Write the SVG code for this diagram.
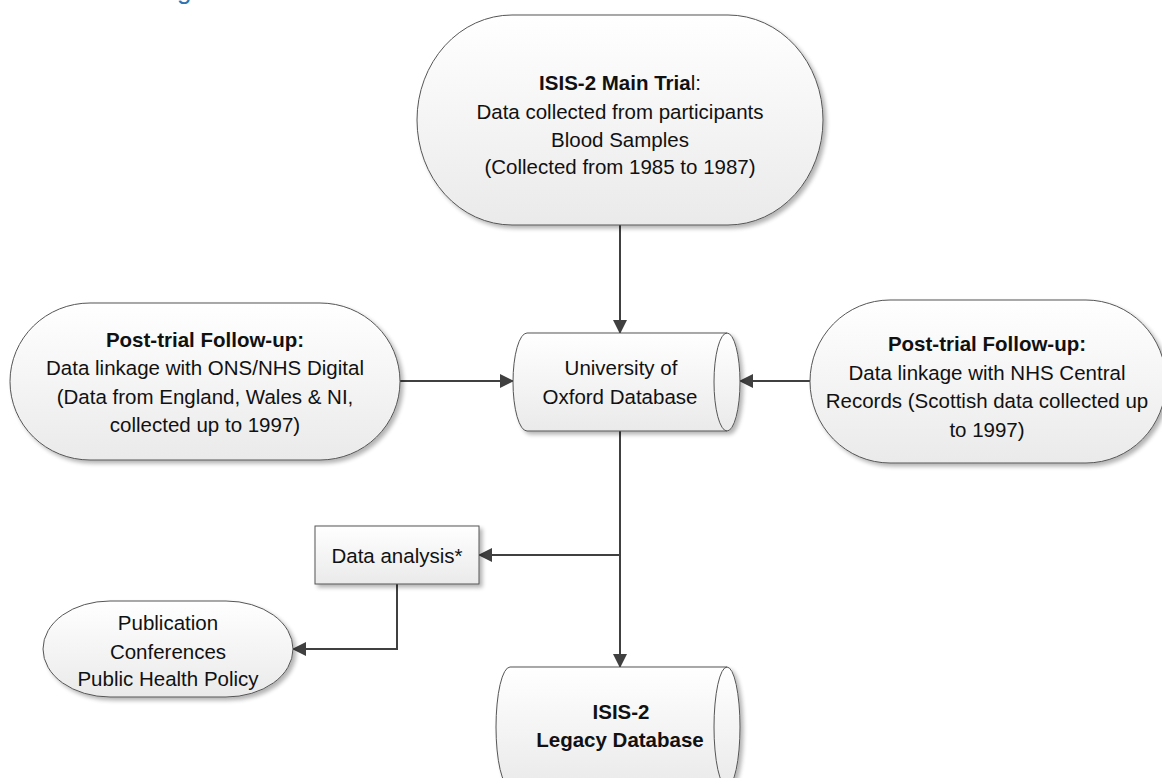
<svg xmlns="http://www.w3.org/2000/svg" width="1162" height="778" viewBox="0 0 1162 778">
  <defs>
    <linearGradient id="fillGrad" x1="0" y1="0" x2="0" y2="1">
      <stop offset="0" stop-color="#ffffff"/>
      <stop offset="1" stop-color="#eaeaea"/>
    </linearGradient>
    <filter id="shadow" x="-10%" y="-10%" width="125%" height="130%">
      <feGaussianBlur in="SourceAlpha" stdDeviation="2.2"/>
      <feOffset dx="3" dy="3" result="b"/>
      <feComponentTransfer><feFuncA type="linear" slope="0.3"/></feComponentTransfer>
      <feMerge><feMergeNode/><feMergeNode in="SourceGraphic"/></feMerge>
    </filter>
    <marker id="arrow" viewBox="0 0 14 14" refX="13" refY="7" markerWidth="14" markerHeight="14" markerUnits="userSpaceOnUse" orient="auto">
      <path d="M0,0 L14,7 L0,14 Z" fill="#404040"/>
    </marker>
  </defs>
  <style>
    .shape { fill: url(#fillGrad); stroke: #555555; stroke-width: 1; filter: url(#shadow); }
    .inner { fill: none; stroke: #555555; stroke-width: 1; }
    .t { font-family: "Liberation Sans", Arial, sans-serif; font-size: 20.5px; fill: #111111; text-anchor: middle; }
    .b { font-weight: bold; }
    .conn { fill: none; stroke: #404040; stroke-width: 2; }
    .head { font-family: "Liberation Sans", Arial, sans-serif; font-size: 26px; fill: #2E74B5; }
  </style>
  <rect width="1162" height="778" fill="#ffffff"/>

  <text class="head" x="177" y="-1">g</text>

  <g id="connectors">
    <path class="conn" d="M620,225 V333" marker-end="url(#arrow)"/>
    <path class="conn" d="M400,381 H513" marker-end="url(#arrow)"/>
    <path class="conn" d="M810,381 H740" marker-end="url(#arrow)"/>
    <path class="conn" d="M620,431 V667" marker-end="url(#arrow)"/>
    <path class="conn" d="M620,555 H479" marker-end="url(#arrow)"/>
    <path class="conn" d="M397,584 V649 H293" marker-end="url(#arrow)"/>
  </g>

  <g id="main-trial">
    <rect class="shape" x="417" y="15" width="406" height="210" rx="95" ry="105"/>
    <text class="t" x="620" y="90"><tspan class="b">ISIS-2 Main Tria</tspan>l:</text>
    <text class="t" x="620" y="119">Data collected from participants</text>
    <text class="t" x="620" y="147">Blood Samples</text>
    <text class="t" x="620" y="174">(Collected from 1985 to 1987)</text>
  </g>

  <g id="followup-left">
    <rect class="shape" x="10" y="303" width="390" height="157" rx="80" ry="78.5"/>
    <text class="t b" x="205" y="347">Post-trial Follow-up:</text>
    <text class="t" x="205" y="375">Data linkage with ONS/NHS Digital</text>
    <text class="t" x="205" y="404">(Data from England, Wales &amp; NI,</text>
    <text class="t" x="205" y="432">collected up to 1997)</text>
  </g>

  <g id="followup-right">
    <rect class="shape" x="810" y="300" width="356" height="163" rx="80" ry="81.5"/>
    <text class="t b" x="987" y="351">Post-trial Follow-up:</text>
    <text class="t" x="987" y="380">Data linkage with NHS Central</text>
    <text class="t" x="987" y="408">Records (Scottish data collected up</text>
    <text class="t" x="987" y="437">to 1997)</text>
  </g>

  <g id="oxford-db">
    <path class="shape" d="M527,333 L727,333 A13,49 0 0 1 727,431 L527,431 A14,49 0 0 1 527,333 Z"/>
    <path class="inner" d="M727,333 A13,49 0 0 0 727,431"/>
    <text class="t" x="621" y="375">University of</text>
    <text class="t" x="620" y="404">Oxford Database</text>
  </g>

  <g id="data-analysis">
    <rect class="shape" x="315" y="526" width="164" height="58"/>
    <text class="t" x="397" y="563">Data analysis*</text>
  </g>

  <g id="publication">
    <rect class="shape" x="43" y="601" width="250" height="96" rx="67" ry="48"/>
    <text class="t" x="168" y="630">Publication</text>
    <text class="t" x="168" y="659">Conferences</text>
    <text class="t" x="168" y="686">Public Health Policy</text>
  </g>

  <g id="legacy-db">
    <path class="shape" d="M510,667 L727,667 A13,60 0 0 1 727,787 L510,787 A14,60 0 0 1 510,667 Z"/>
    <path class="inner" d="M727,667 A13,60 0 0 0 727,787"/>
    <text class="t b" x="621" y="719">ISIS-2</text>
    <text class="t b" x="620" y="747">Legacy Database</text>
  </g>
</svg>
